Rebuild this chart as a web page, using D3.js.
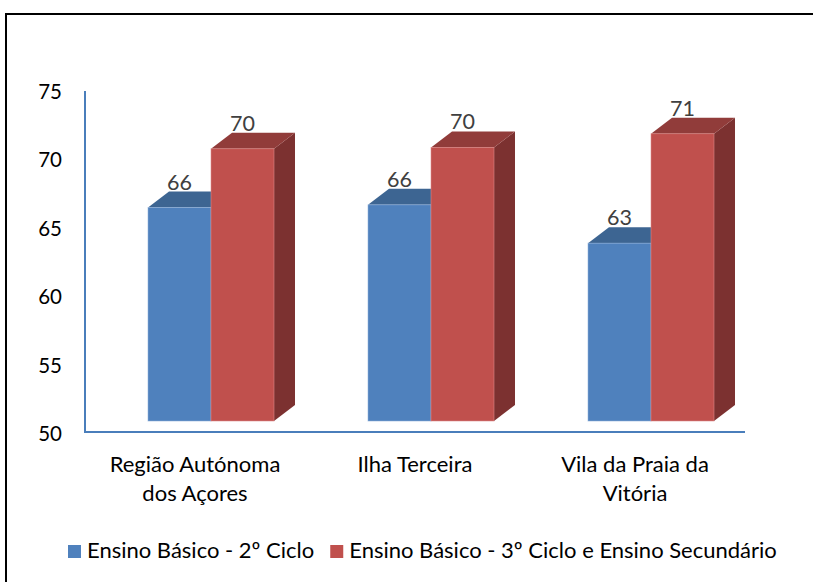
<!DOCTYPE html>
<html>
<head>
<meta charset="utf-8">
<script src="https://cdn.jsdelivr.net/npm/d3@7"></script>
<style>
  html, body { margin: 0; padding: 0; background: #fff; }
  svg { display: block; }
  text { font-family: Lato, "Open Sans", sans-serif; }
</style>
</head>
<body>
<svg id="chart" width="813" height="582"></svg>
<script>
// ---- Data ----
const categories = [
  ["Região Autónoma", "dos Açores"],
  ["Ilha Terceira"],
  ["Vila da Praia da", "Vitória"]
];
const seriesNames = [
  "Ensino Básico - 2º Ciclo",
  "Ensino Básico - 3º Ciclo e Ensino Secundário"
];
const serie2Ciclo = [65.6, 65.8, 63.0];
const serie3Ciclo = [69.9, 70.0, 71.0];
const yTicks = [50, 55, 60, 65, 70, 75];

// ---- Styles ----
const colors = [
  { front: "#4F81BD", top: "#3D6592", side: "#385D8A", edge: "#8FB0DA" },
  { front: "#C0504D", top: "#913C3A", side: "#7C3130", edge: "#DE8C8A" }
];

const svg = d3.select("#chart");

// chart border
svg.append("rect")
  .attr("x", 6).attr("y", 14)
  .attr("width", 830).attr("height", 600)
  .attr("fill", "none").attr("stroke", "#000").attr("stroke-width", 2);

const catKeys = categories.map(c => c.join(" "));
const x0 = d3.scaleBand().domain(catKeys).range([85, 745]).paddingInner(0).paddingOuter(0);
const barW = 63;
const x1 = d3.scaleBand().domain(seriesNames).range([0, barW * 2]);
const y = d3.scaleLinear().domain([50, 75]).range([434, 92]);

// 3D geometry
const frontDX = 16, frontDY = -13;
const depthX = 21, depthY = -16;

// y axis labels
const yAxis = d3.axisLeft(y).tickValues(yTicks).tickSize(0).tickPadding(23);
const gy = svg.append("g").attr("transform", "translate(85,0)").call(yAxis);
gy.select(".domain").remove();
gy.selectAll("text")
  .attr("font-family", "Lato, sans-serif")
  .attr("font-size", 20.5)
  .attr("fill", "#000");

// axis lines
svg.append("line")
  .attr("x1", 85).attr("x2", 85).attr("y1", y(75) - 1).attr("y2", y(50) - 1)
  .attr("stroke", "#4A7EBB").attr("stroke-width", 2);
svg.append("line")
  .attr("x1", 84).attr("x2", 745).attr("y1", y(50) - 2).attr("y2", y(50) - 2)
  .attr("stroke", "#4A7EBB").attr("stroke-width", 2);

// bars
const seriesData = [serie2Ciclo, serie3Ciclo];
const bars = [];
catKeys.forEach((c, ci) => {
  seriesNames.forEach((s, si) => {
    bars.push({ c, s, si, v: seriesData[si][ci] });
  });
});

const groupInner = (x0.bandwidth() - barW * 2) / 2;
const gBars = svg.append("g");
bars.forEach(d => {
  const xl = x0(d.c) + groupInner + x1(d.s) + frontDX;
  const xr = xl + barW;
  const yt = y(d.v) + frontDY;
  const yb = y(50) + frontDY;
  const col = colors[d.si];
  const g = gBars.append("g");
  // side face
  g.append("path")
    .attr("d", `M${xr},${yb} L${xr + depthX},${yb + depthY} L${xr + depthX},${yt + depthY} L${xr},${yt} Z`)
    .attr("fill", col.side);
  // top face
  g.append("path")
    .attr("d", `M${xl},${yt} L${xl + depthX},${yt + depthY} L${xr + depthX},${yt + depthY} L${xr},${yt} Z`)
    .attr("fill", col.top);
  // front face
  g.append("rect")
    .attr("x", xl).attr("y", yt)
    .attr("width", barW).attr("height", yb - yt)
    .attr("fill", col.front)
    .attr("stroke", col.edge).attr("stroke-width", 0.8).attr("stroke-opacity", 0.7);
  // data label
  g.append("text")
    .attr("x", xl + barW / 2)
    .attr("y", yt + depthY - 2)
    .attr("text-anchor", "middle")
    .attr("font-size", 21.5)
    .attr("fill", "#404040")
    .text(d3.format(".0f")(d.v));
});

// category labels
categories.forEach((lines, ci) => {
  const cx = x0(catKeys[ci]) + x0.bandwidth() / 2;
  const t = svg.append("text")
    .attr("x", cx).attr("y", 472)
    .attr("text-anchor", "middle")
    .attr("font-size", 22)
    .attr("fill", "#000");
  lines.forEach((ln, li) => {
    t.append("tspan").attr("x", cx).attr("dy", li === 0 ? 0 : 29).text(ln);
  });
});

// legend
const legend = svg.append("g");
let lx = 68;
seriesNames.forEach((s, si) => {
  legend.append("rect")
    .attr("x", lx).attr("y", 545)
    .attr("width", 13).attr("height", 13)
    .attr("fill", colors[si].front);
  const t = legend.append("text")
    .attr("x", lx + 19).attr("y", 558)
    .attr("font-size", 22)
    .attr("fill", "#000")
    .text(s);
  lx += 19 + t.node().getComputedTextLength() + 16;
});
</script>
</body>
</html>
